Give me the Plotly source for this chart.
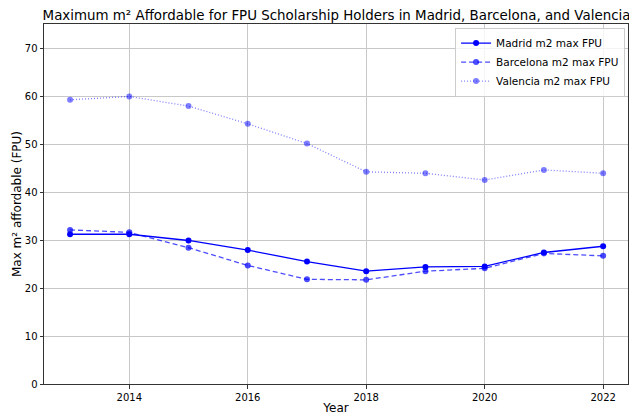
import plotly.graph_objects as go

years = [2013, 2014, 2015, 2016, 2017, 2018, 2019, 2020, 2021, 2022]
madrid = [31.2, 31.2, 29.9, 27.9, 25.5, 23.5, 24.4, 24.5, 27.4, 28.7]
barcelona = [32.1, 31.6, 28.4, 24.7, 21.8, 21.7, 23.5, 24.1, 27.2, 26.7]
valencia = [59.2, 59.9, 57.9, 54.2, 50.1, 44.2, 43.9, 42.5, 44.6, 43.9]

fig = go.Figure()
fig.add_trace(go.Scatter(x=years, y=madrid, mode="lines+markers", name="Madrid m2 max FPU",
                         line=dict(color="rgb(0,0,255)", width=1.3), marker=dict(size=6, color="rgb(0,0,255)")))
fig.add_trace(go.Scatter(x=years, y=barcelona, mode="lines+markers", name="Barcelona m2 max FPU",
                         line=dict(color="rgba(0,0,255,0.7)", width=1.3, dash="5px,3px"),
                         marker=dict(size=6, color="rgba(0,0,255,0.7)")))
fig.add_trace(go.Scatter(x=years, y=valencia, mode="lines+markers", name="Valencia m2 max FPU",
                         line=dict(color="rgba(0,0,255,0.5)", width=1.3, dash="1px,2px"),
                         marker=dict(size=6, color="rgba(0,0,255,0.5)")))

fig.update_layout(
    width=629, height=415,
    margin=dict(l=44, r=1, t=24, b=31),
    plot_bgcolor="white", paper_bgcolor="white",
    font=dict(family="DejaVu Sans", size=10, color="black"),
    title=dict(text="Maximum m² Affordable for FPU Scholarship Holders in Madrid, Barcelona, and Valencia",
               font=dict(size=13.4, color="black"), x=0.535, xanchor="center", y=0.964, yanchor="middle"),
    legend=dict(x=0.995, y=0.99, xanchor="right", yanchor="top", bgcolor="rgba(255,255,255,0.8)",
                bordercolor="#cccccc", borderwidth=1, font=dict(size=10.5), itemwidth=30),
    xaxis=dict(range=[2012.56, 2022.42], tickmode="array", tickvals=[2014, 2016, 2018, 2020, 2022],
               showgrid=True, gridcolor="#c8c8c8", gridwidth=1, showline=True, linecolor="#333333", mirror=True,
               ticks="outside", ticklen=3.5, tickcolor="#333333", zeroline=False,
               title=dict(text="Year", font=dict(size=12), standoff=4)),
    yaxis=dict(range=[0, 75], tickmode="array", tickvals=[0, 10, 20, 30, 40, 50, 60, 70],
               showgrid=True, gridcolor="#c8c8c8", gridwidth=1, showline=True, linecolor="#333333", mirror=True,
               ticks="outside", ticklen=3.5, tickcolor="#333333", zeroline=False,
               title=dict(text="Max m² affordable (FPU)", font=dict(size=12), standoff=0)),
)
fig.write_html("out.html", config={"displayModeBar": False},
               post_script="document.body.style.margin='0';document.body.style.overflow='hidden';")
